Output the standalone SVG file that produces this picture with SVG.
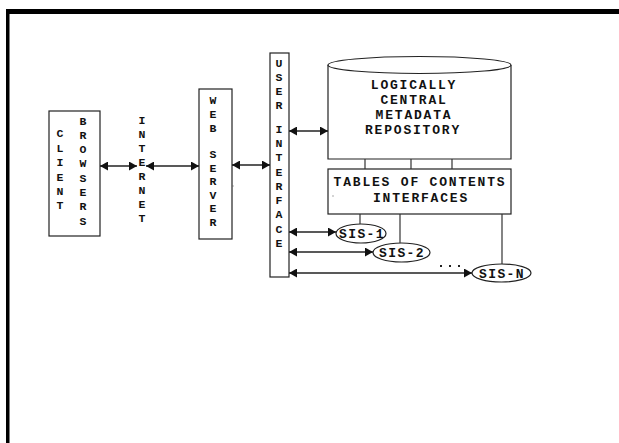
<svg xmlns="http://www.w3.org/2000/svg" width="619" height="443" viewBox="0 0 619 443">
<style>
.box{fill:#fff;stroke:#222;stroke-width:1.2}
.t{font-family:"Liberation Mono","Courier New",monospace;font-weight:bold;font-size:13px;fill:#111;letter-spacing:1.8px;text-anchor:middle}
.v{font-family:"Liberation Mono","Courier New",monospace;font-weight:bold;font-size:11.5px;fill:#111;text-anchor:middle}
.a{stroke:#222;stroke-width:1.5;fill:none;marker-start:url(#ah);marker-end:url(#ah)}
.c{stroke:#333;stroke-width:1.2;fill:none}
</style>
<defs>
<marker id="ah" markerUnits="userSpaceOnUse" markerWidth="8" markerHeight="9" refX="8" refY="4.5" orient="auto-start-reverse">
<path d="M0,0 L8,4.5 L0,9 z" fill="#111"/>
</marker>
</defs>
<rect width="619" height="443" fill="#fff"/>
<g id="frame">
<rect x="6" y="9" width="613" height="5" fill="#000"/>
<rect x="6" y="9" width="3.5" height="434" fill="#000"/>
</g>
<g id="client">
<rect class="box" x="49" y="111" width="51" height="125"/>
<text class="v"><tspan x="60" y="137">C</tspan><tspan x="60" y="152">L</tspan><tspan x="60" y="166">I</tspan><tspan x="60" y="181">E</tspan><tspan x="60" y="195">N</tspan><tspan x="60" y="209">T</tspan></text>
<text class="v"><tspan x="83" y="125">B</tspan><tspan x="83" y="139">R</tspan><tspan x="83" y="153">O</tspan><tspan x="83" y="167">W</tspan><tspan x="83" y="182">S</tspan><tspan x="83" y="196">E</tspan><tspan x="83" y="210">R</tspan><tspan x="83" y="225">S</tspan></text>
</g>
<g id="internet">
<text class="v"><tspan x="142" y="124">I</tspan><tspan x="142" y="138">N</tspan><tspan x="142" y="152">T</tspan><tspan x="142" y="166">E</tspan><tspan x="142" y="180">R</tspan><tspan x="142" y="194">N</tspan><tspan x="142" y="208">E</tspan><tspan x="142" y="222">T</tspan></text>
</g>
<g id="webserver">
<rect class="box" x="199" y="89" width="33" height="150"/>
<text class="v"><tspan x="213" y="104">W</tspan><tspan x="213" y="118">E</tspan><tspan x="213" y="132">B</tspan><tspan x="213" y="158">S</tspan><tspan x="213" y="171.5">E</tspan><tspan x="213" y="185">R</tspan><tspan x="213" y="198.5">V</tspan><tspan x="213" y="212">E</tspan><tspan x="213" y="225.5">R</tspan></text>
<rect x="232.5" y="185.5" width="1" height="1" fill="#555"/>
</g>
<g id="userinterface">
<rect class="box" x="270" y="53" width="19" height="224"/>
<text class="v"><tspan x="279" y="67">U</tspan><tspan x="279" y="81">S</tspan><tspan x="279" y="95">E</tspan><tspan x="279" y="109">R</tspan><tspan x="279" y="133">I</tspan><tspan x="279" y="147">N</tspan><tspan x="279" y="161">T</tspan><tspan x="279" y="176">E</tspan><tspan x="279" y="190">R</tspan><tspan x="279" y="204">F</tspan><tspan x="279" y="218">A</tspan><tspan x="279" y="233">C</tspan><tspan x="279" y="247">E</tspan></text>
</g>
<g id="repository">
<path class="box" d="M328,65 L328,159 L511,159 L511,65"/>
<ellipse class="box" cx="419.5" cy="65" rx="91.5" ry="8.5"/>
<text class="t" x="414" y="88.5">LOGICALLY</text>
<text class="t" x="414" y="103.5">CENTRAL</text>
<text class="t" x="414" y="118.5">METADATA</text>
<text class="t" x="413" y="133.5">REPOSITORY</text>
</g>
<g id="toc">
<rect class="box" x="328" y="169" width="183" height="45"/>
<text class="t" x="420" y="185.5">TABLES OF CONTENTS</text>
<text class="t" x="421" y="201.5">INTERFACES</text>
<rect x="332.5" y="195.5" width="1" height="1" fill="#555"/>
</g>
<g id="sis1">
<ellipse class="box" cx="361" cy="233.5" rx="25" ry="9.5"/>
<text class="t" x="362" y="238" style="letter-spacing:1.4px">SIS-1</text>
</g>
<g id="sis2">
<ellipse class="box" cx="401.5" cy="252.5" rx="28.5" ry="9.5"/>
<text class="t" x="402" y="257" style="letter-spacing:1.4px">SIS-2</text>
</g>
<g id="sisn">
<ellipse class="box" cx="501.5" cy="273" rx="29.5" ry="9"/>
<text class="t" x="502" y="277.5" style="letter-spacing:1.4px">SIS-N</text>
</g>
<g id="connectors">
<line class="a" x1="100" y1="166" x2="137" y2="166"/>
<line class="a" x1="146" y1="166" x2="199" y2="166"/>
<line class="a" x1="232" y1="165" x2="270" y2="165"/>
<line class="a" x1="289" y1="131" x2="328" y2="131"/>
<line class="a" x1="289" y1="232" x2="336" y2="232"/>
<line class="a" x1="289" y1="252" x2="373" y2="252"/>
<line class="a" x1="289" y1="273" x2="472" y2="273"/>
<line class="c" x1="365" y1="159" x2="365" y2="169"/>
<line class="c" x1="411" y1="159" x2="411" y2="169"/>
<line class="c" x1="452" y1="159" x2="452" y2="169"/>
<line class="c" x1="360" y1="214" x2="360" y2="224"/>
<line class="c" x1="400" y1="214" x2="400" y2="243"/>
<line class="c" x1="502" y1="214" x2="502" y2="264"/>
<g fill="#222"><rect x="440" y="265" width="2" height="2"/><rect x="449" y="265" width="2" height="2"/><rect x="458" y="265" width="2" height="2"/></g>
</g>
</svg>
